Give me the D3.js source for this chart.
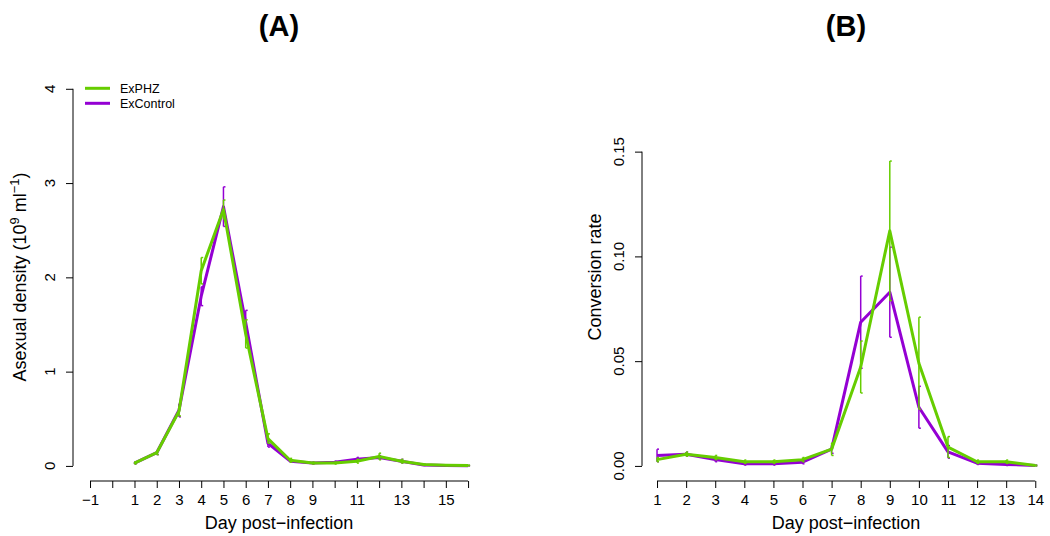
<!DOCTYPE html>
<html><head><meta charset="utf-8">
<script src="https://cdn.jsdelivr.net/npm/d3@7"></script>
<style>
body{margin:0;background:#fff;}
text{font-family:"Liberation Sans",Arial,sans-serif;fill:#000;}
</style></head><body>
<svg id="c" width="1050" height="536"></svg>
<script>
// ---- Panel A data: asexual density (10^9/ml) ----
const daysA = [1,2,3,4,5,6,7,8,9,10,11,12,13,14,15,16];
const phzA    = [0.03,0.14,0.58,2.07,2.72,1.40,0.29,0.06,0.03,0.03,0.05,0.10,0.05,0.015,0.008,0.005];
const phzAErr = [0.01,0.02,0.05,0.14,0.10,0.15,0.05,0.02,0.01,0.01,0.02,0.035,0.02,0.005,0.003,0.003];
const ctlA    = [0.03,0.14,0.59,1.80,2.75,1.52,0.24,0.05,0.03,0.04,0.07,0.09,0.05,0.01,0.005,0.003];
const ctlAErr = [0.01,0.02,0.07,0.10,0.21,0.13,0.04,0.01,0.01,0.01,0.02,0.02,0.02,0.005,0.003,0.002];
const xTicksA = [-1,0,1,2,3,4,5,6,7,8,9,10,11,12,13,14,15,16];
const xLabelsA = ["\u22121","","1","2","3","4","5","6","7","8","9","","11","","13","","15",""];
const yTicksA = [0,1,2,3,4];

// ---- Panel B data: conversion rate ----
const daysB = [1,2,3,4,5,6,7,8,9,10,11,12,13,14];
const phzB    = [0.003,0.0056,0.004,0.002,0.002,0.003,0.008,0.0472,0.1122,0.049,0.009,0.002,0.002,0.0002];
const phzBErr = [0.001,0.001,0.001,0.0008,0.0008,0.001,0.003,0.0124,0.0333,0.022,0.005,0.0008,0.0008,0.0002];
const ctlB    = [0.005,0.0056,0.003,0.001,0.001,0.0018,0.008,0.0686,0.0829,0.028,0.0067,0.0013,0.0007,0.0002];
const ctlBErr = [0.003,0.001,0.001,0.0006,0.0006,0.0008,0.002,0.022,0.0215,0.010,0.003,0.0006,0.0005,0.0002];
const xTicksB = [1,2,3,4,5,6,7,8,9,10,11,12,13,14];
const yTicksB = [0,0.05,0.10,0.15];
const yLabelsB = ["0.00","0.05","0.10","0.15"];

const seriesNames = ["ExPHZ","ExControl"];
const colPHZ = "#66CD00", colCtl = "#9400D3";

const svg = d3.select("#c");
const plotTop = 73.7, plotBottom = 481;

function rAxisX(g, x, ticks, labels, y0){
  const ax = g.append("g").attr("transform",`translate(0,${y0})`);
  ax.append("line").attr("x1",x(ticks[0])).attr("x2",x(ticks[ticks.length-1]))
    .attr("y1",0).attr("y2",0).attr("stroke","#000").attr("stroke-width",1);
  const a = d3.axisBottom(x).tickValues(ticks).tickSize(7).tickPadding(6)
    .tickFormat((d,i)=>labels[i]);
  const gg = ax.append("g").call(a);
  gg.select(".domain").remove();
  gg.selectAll("text").attr("font-size",15).attr("font-family","Liberation Sans, Arial, sans-serif").attr("fill","#000");
  gg.selectAll("line").attr("stroke","#000");
}
function rAxisY(g, y, ticks, labels, x0){
  const ax = g.append("g").attr("transform",`translate(${x0},0)`);
  ax.append("line").attr("y1",y(ticks[0])).attr("y2",y(ticks[ticks.length-1]))
    .attr("x1",0).attr("x2",0).attr("stroke","#000").attr("stroke-width",1);
  const a = d3.axisLeft(y).tickValues(ticks).tickSize(7).tickFormat((d,i)=>labels[i]);
  const gg = ax.append("g").call(a);
  gg.select(".domain").remove();
  gg.selectAll("line").attr("stroke","#000");
  gg.selectAll("text").remove();
  ticks.forEach((t,i)=>{
    ax.append("text").attr("transform",`translate(-18,${y(t)}) rotate(-90)`)
      .attr("text-anchor","middle").attr("font-size",15).text(labels[i]);
  });
}
function series(g, x, y, days, vals, errs, col){
  const line = d3.line().x((d,i)=>x(days[i])).y(d=>y(d));
  g.append("path").attr("d",line(vals)).attr("fill","none").attr("stroke",col)
    .attr("stroke-width",3).attr("stroke-linejoin","round");
  days.forEach((d,i)=>{
    const xx = x(d), y1 = y(vals[i]-errs[i]), y2 = y(vals[i]+errs[i]);
    g.append("line").attr("x1",xx).attr("x2",xx).attr("y1",y1).attr("y2",y2)
      .attr("stroke",col).attr("stroke-width",1.5);
    [y1,y2].forEach(yy=>g.append("line").attr("x1",xx).attr("x2",xx+2).attr("y1",yy).attr("y2",yy)
      .attr("stroke",col).attr("stroke-width",1.5));
  });
}

// ---------------- Panel A ----------------
{
  const xA = d3.scaleLinear().domain([-1.68,16.68]).range([74.9,483.2]);
  const yA = d3.scaleLinear().domain([-0.16,4.16]).range([plotBottom,plotTop]);
  const g = svg.append("g");
  series(g,xA,yA,daysA,ctlA,ctlAErr,colCtl);
  series(g,xA,yA,daysA,phzA,phzAErr,colPHZ);
  rAxisX(g,xA,xTicksA,xLabelsA,plotBottom);
  rAxisY(g,yA,yTicksA,yTicksA.map(String),73);
  svg.append("text").attr("x",279).attr("y",36).attr("text-anchor","middle")
    .attr("font-size",29).attr("font-weight","bold").text("(A)");
  svg.append("text").attr("x",279).attr("y",529).attr("text-anchor","middle")
    .attr("font-size",18).text("Day post\u2212infection");
  const yl = svg.append("text").attr("transform","translate(26,277) rotate(-90)")
    .attr("text-anchor","middle").attr("font-size",18);
  yl.append("tspan").text("Asexual density (10");
  yl.append("tspan").attr("dy",-7).attr("font-size",13).text("9");
  yl.append("tspan").attr("dy",7).text(" ml");
  yl.append("tspan").attr("dy",-7).attr("font-size",13).text("\u22121");
  yl.append("tspan").attr("dy",7).text(")");
  // legend
  const lg = svg.append("g");
  [colPHZ,colCtl].forEach((c,i)=>{
    lg.append("line").attr("x1",85).attr("x2",110).attr("y1",88.3+15*i).attr("y2",88.3+15*i)
      .attr("stroke",c).attr("stroke-width",3);
    lg.append("text").attr("x",120).attr("y",92.8+15*i).attr("font-size",12.5).text(seriesNames[i]);
  });
}

// ---------------- Panel B ----------------
{
  const xB = d3.scaleLinear().domain([0.48,14.52]).range([641.9,1050.4]);
  const yB = d3.scaleLinear().domain([-0.0072,0.1872]).range([plotBottom,plotTop]);
  const g = svg.append("g");
  series(g,xB,yB,daysB,ctlB,ctlBErr,colCtl);
  series(g,xB,yB,daysB,phzB,phzBErr,colPHZ);
  rAxisX(g,xB,xTicksB,xTicksB.map(String),plotBottom);
  rAxisY(g,yB,yTicksB,yLabelsB,642);
  svg.append("text").attr("x",846).attr("y",36).attr("text-anchor","middle")
    .attr("font-size",29).attr("font-weight","bold").text("(B)");
  svg.append("text").attr("x",846).attr("y",529).attr("text-anchor","middle")
    .attr("font-size",18).text("Day post\u2212infection");
  svg.append("text").attr("transform","translate(601,277) rotate(-90)")
    .attr("text-anchor","middle").attr("font-size",18).text("Conversion rate");
}
</script></body></html>
